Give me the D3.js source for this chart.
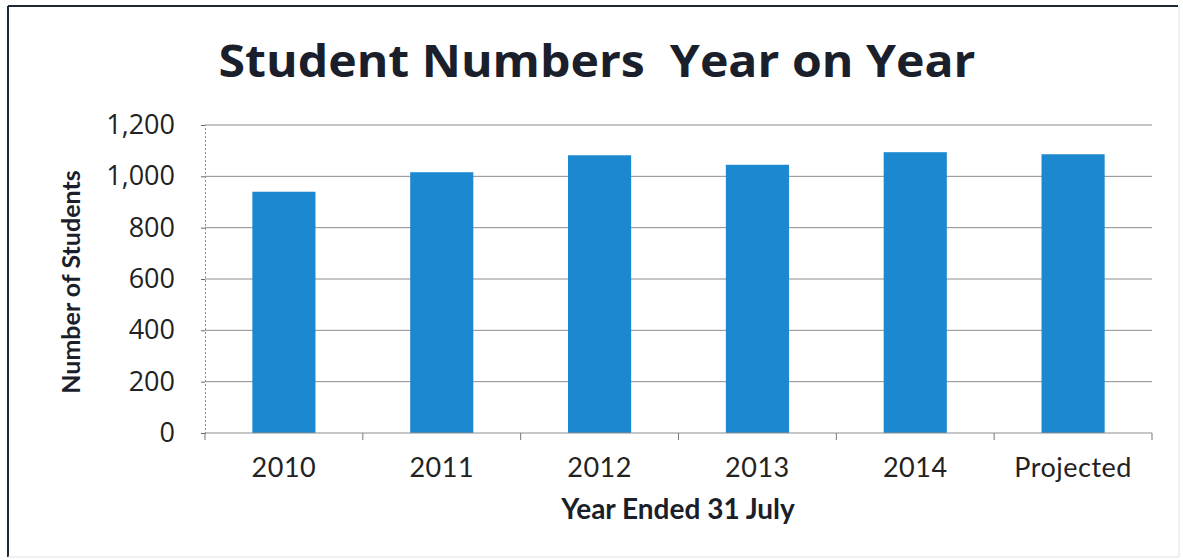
<!DOCTYPE html>
<html>
<head>
<meta charset="utf-8">
<script src="https://cdn.jsdelivr.net/npm/d3@7"></script>
<style>
  body { margin: 0; background: #fff; }
  svg { display: block; }
</style>
</head>
<body>
<div id="chart"></div>
<script>
// chart data
const CATEGORIES = ["2010", "2011", "2012", "2013", "2014", "Projected"];
const STUDENTS = [940, 1016, 1082, 1045, 1094, 1086];
const Y_TICKS = [0, 200, 400, 600, 800, 1000, 1200];

const F_WIDTH = 1183;
const F_HEIGHT = 560;
const PLOT = {left: 205, right: 1152, top: 125, bottom: 433};

const FRAME = d3.select("#chart")
  .append("svg")
    .attr("width", F_WIDTH)
    .attr("height", F_HEIGHT);

// outer frame (scanned look: dark top/left, faint right/bottom)
FRAME.append("line").attr("x1", 8).attr("x2", 1178).attr("y1", 6).attr("y2", 6)
  .attr("stroke", "#1f2a36").attr("stroke-width", 2);
FRAME.append("line").attr("x1", 8).attr("x2", 8).attr("y1", 6).attr("y2", 557)
  .attr("stroke", "#1f2a36").attr("stroke-width", 2);
FRAME.append("line").attr("x1", 1179).attr("x2", 1179).attr("y1", 6).attr("y2", 557)
  .attr("stroke", "#dde3e8").attr("stroke-width", 1);
FRAME.append("line").attr("x1", 8).attr("x2", 1179).attr("y1", 557).attr("y2", 557)
  .attr("stroke", "#dde3e8").attr("stroke-width", 1);

const X_SCALE = d3.scaleBand()
  .domain(CATEGORIES)
  .range([PLOT.left, PLOT.right])
  .paddingInner(0.6)
  .paddingOuter(0.3);

const Y_SCALE = d3.scaleLinear()
  .domain([0, 1200])
  .range([PLOT.bottom, PLOT.top]);

// gridlines
FRAME.append("g")
  .selectAll("line")
  .data(Y_TICKS.filter(d => d > 0))
  .enter().append("line")
    .attr("x1", PLOT.left)
    .attr("x2", PLOT.right)
    .attr("y1", d => Y_SCALE(d))
    .attr("y2", d => Y_SCALE(d))
    .attr("stroke", "#8c8c8c")
    .attr("stroke-width", 1);

// y axis
const yAxis = FRAME.append("g")
  .attr("transform", "translate(" + PLOT.left + ",0)")
  .call(d3.axisLeft(Y_SCALE).tickValues(Y_TICKS).tickSize(4).tickPadding(26)
    .tickFormat(d3.format(",")));
yAxis.select(".domain").attr("stroke", "#8c8c8c").attr("stroke-dasharray", "2,2");
yAxis.selectAll(".tick line").attr("stroke", "#666");
yAxis.selectAll("text")
  .attr("font-family", "'Open Sans', sans-serif")
  .attr("font-size", 27)
  .attr("fill", "#222");

// bars
FRAME.append("g")
  .selectAll("rect")
  .data(STUDENTS)
  .enter().append("rect")
    .attr("x", (d, i) => X_SCALE(CATEGORIES[i]))
    .attr("y", d => Y_SCALE(d))
    .attr("width", X_SCALE.bandwidth())
    .attr("height", d => Y_SCALE(0) - Y_SCALE(d))
    .attr("fill", "#1b88d0");

// x axis: ticks sit between categories
const boundaries = CATEGORIES.map(c => X_SCALE(c) - X_SCALE.step() * 0.3)
  .concat([PLOT.right]);
FRAME.append("line")
  .attr("x1", PLOT.left).attr("x2", PLOT.right)
  .attr("y1", PLOT.bottom).attr("y2", PLOT.bottom)
  .attr("stroke", "#8c8c8c").attr("stroke-width", 1);
FRAME.append("g")
  .selectAll("line")
  .data(boundaries)
  .enter().append("line")
    .attr("x1", d => d).attr("x2", d => d)
    .attr("y1", PLOT.bottom).attr("y2", PLOT.bottom + 7)
    .attr("stroke", "#777");

FRAME.append("g")
  .selectAll("text")
  .data(CATEGORIES)
  .enter().append("text")
    .attr("x", d => X_SCALE(d) + X_SCALE.bandwidth() / 2)
    .attr("y", 477)
    .attr("text-anchor", "middle")
    .attr("font-family", "Lato, sans-serif")
    .attr("font-size", 27)
    .attr("letter-spacing", 0.5)
    .attr("fill", "#222")
    .text(d => d);

// titles
FRAME.append("text")
  .attr("x", 597).attr("y", 77)
  .attr("text-anchor", "middle")
  .attr("font-family", "'Open Sans', sans-serif")
  .attr("font-weight", "bold")
  .attr("font-size", 44)
  .attr("textLength", 757)
  .attr("lengthAdjust", "spacingAndGlyphs")
  .attr("fill", "#1a1f2b")
  .attr("xml:space", "preserve")
  .text("Student Numbers  Year on Year");

FRAME.append("text")
  .attr("x", 678).attr("y", 519)
  .attr("text-anchor", "middle")
  .attr("font-family", "Lato, sans-serif")
  .attr("font-weight", "bold")
  .attr("font-size", 28)
  .attr("fill", "#1a1f2b")
  .text("Year Ended 31 July");

FRAME.append("text")
  .attr("transform", "translate(80,282) rotate(-90)")
  .attr("text-anchor", "middle")
  .attr("font-family", "Lato, sans-serif")
  .attr("font-weight", "bold")
  .attr("font-size", 25)
  .attr("fill", "#1a1f2b")
  .text("Number of Students");
</script>
</body>
</html>
